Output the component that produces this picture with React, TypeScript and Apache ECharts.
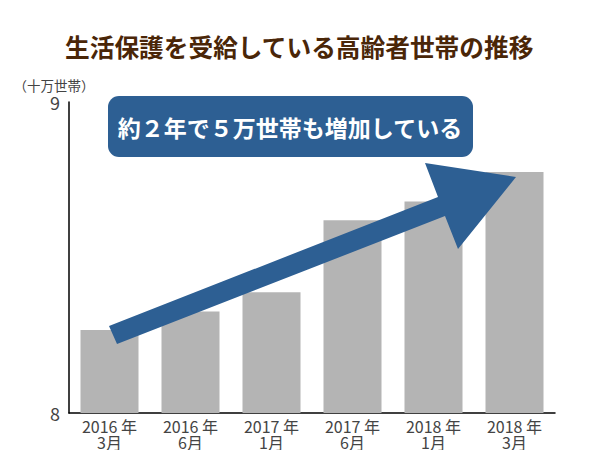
import React, { useEffect, useRef } from 'react';
import * as echarts from 'echarts';

// 単位：十万世帯
const categories = ['2016 年\n3月', '2016 年\n6月', '2017 年\n1月', '2017 年\n6月', '2018 年\n1月', '2018 年\n3月'];
const households = [8.267, 8.326, 8.388, 8.62, 8.68, 8.775];
const yMin = 8;
const yMax = 9;

const FONT = '"Noto Sans CJK JP", "Noto Sans", sans-serif';
const BLUE = '#2d5f93';

export default function App() {
  const chartRef = useRef<HTMLDivElement>(null);

  useEffect(() => {
    document.body.style.margin = '0';
    const chart = echarts.init(chartRef.current, null, { renderer: 'svg' });

    chart.setOption({
      animation: false,
      backgroundColor: '#fff',
      textStyle: { fontFamily: FONT },
      title: {
        text: '生活保護を受給している高齢者世帯の推移',
        left: 60,
        top: 29,
        textStyle: { fontSize: 24.7, fontWeight: 'bold', color: '#4a2608', fontFamily: FONT }
      },
      grid: { left: 69, right: 45, top: 102, bottom: 35 },
      xAxis: {
        type: 'category',
        data: categories,
        axisTick: { show: false },
        axisLine: { lineStyle: { color: '#000', width: 1.5 } },
        axisLabel: { fontSize: 16, lineHeight: 16, color: '#444', margin: 5, interval: 0 }
      },
      yAxis: {
        type: 'value',
        min: yMin,
        max: yMax,
        interval: 1,
        splitLine: { show: false },
        axisTick: { show: false },
        axisLine: { show: true, lineStyle: { color: '#000', width: 1.5 } },
        axisLabel: { fontSize: 18, color: '#444', margin: 9 }
      },
      series: [
        {
          type: 'bar',
          data: households,
          barWidth: 58,
          itemStyle: { color: '#b4b4b4' }
        }
      ],
      graphic: [
        {
          type: 'text',
          x: 54,
          y: 85,
          z: 100,
          style: {
            text: '（十万世帯）',
            fontSize: 13.5,
            fill: '#444',
            fontFamily: FONT,
            align: 'center',
            verticalAlign: 'middle'
          }
        },
        {
          type: 'polygon',
          z: 100,
          shape: {
            points: [
              [109, 326],
              [438, 197],
              [425, 163],
              [516, 177],
              [458, 249],
              [445, 216],
              [117, 344]
            ]
          },
          style: { fill: BLUE }
        },
        {
          type: 'rect',
          z: 100,
          shape: { x: 108, y: 96, width: 365, height: 61, r: 11 },
          style: { fill: BLUE }
        },
        {
          type: 'text',
          x: 290,
          y: 127,
          z: 101,
          style: {
            text: '約２年で５万世帯も増加している',
            fontSize: 23,
            fontWeight: 'bold',
            fill: '#fff',
            fontFamily: FONT,
            align: 'center',
            verticalAlign: 'middle'
          }
        }
      ]
    });

    return () => {
      chart.dispose();
    };
  }, []);

  return <div ref={chartRef} style={{ width: 600, height: 450 }}></div>;
}
